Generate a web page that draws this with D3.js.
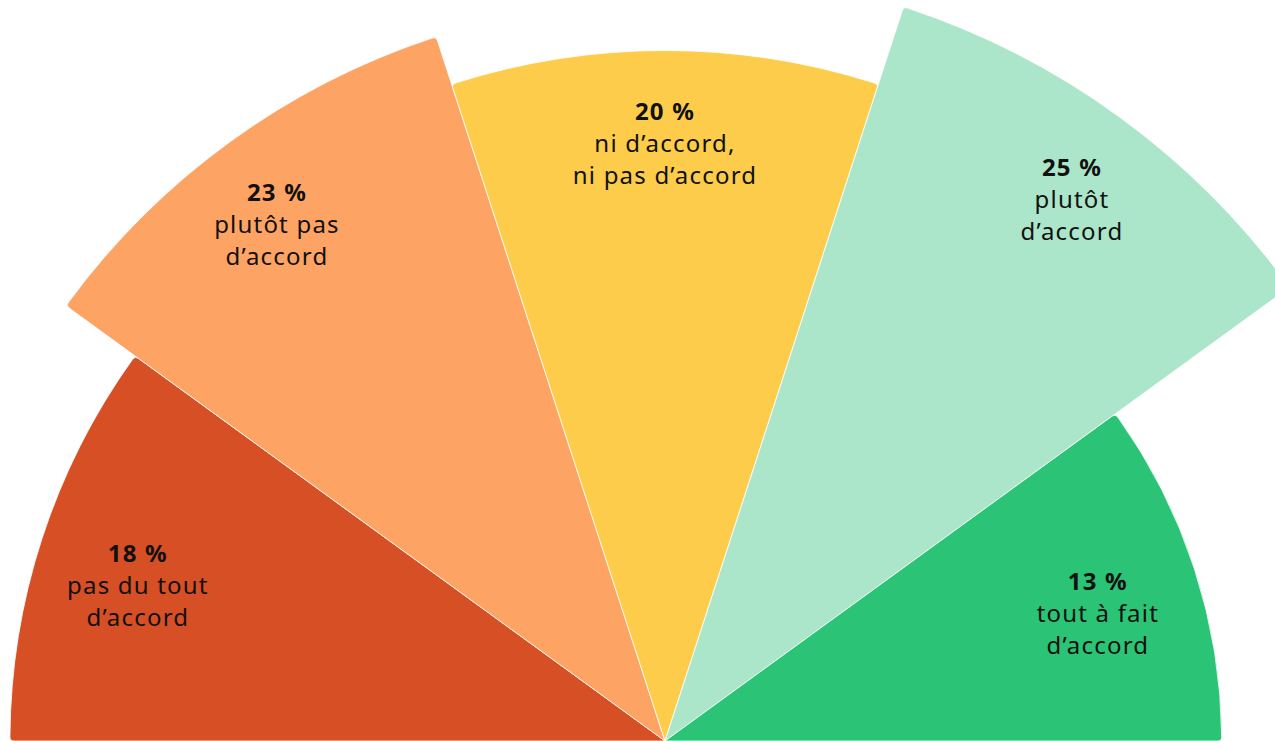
<!DOCTYPE html>
<html>
<head>
<meta charset="utf-8">
<script src="https://cdn.jsdelivr.net/npm/d3@7"></script>
<style>
html,body{margin:0;padding:0;background:#fff;}
svg{display:block;}
</style>
</head>
<body>
<svg id="chart" width="1275" height="741"></svg>
<script>
const categories = ["pas du tout d’accord", "plutôt pas d’accord", "ni d’accord, ni pas d’accord", "plutôt d’accord", "tout à fait d’accord"];
const values = [18, 23, 20, 25, 13];
const labelLines = [
  ["pas du tout", "d’accord"],
  ["plutôt pas", "d’accord"],
  ["ni d’accord,", "ni pas d’accord"],
  ["plutôt", "d’accord"],
  ["tout à fait", "d’accord"]
];
const colors = ["#D64F25", "#FDA465", "#FCCC4A", "#ABE6CA", "#2BC375"];

const W = 1275, H = 741;
const cx = 665, cy = 741;
const svg = d3.select("#chart");
const g = svg.append("g").attr("transform", `translate(${cx},${cy})`);

const rScale = d3.scaleSqrt().domain([0, 25]).range([0, 772]);
const angle = d3.scaleBand().domain(d3.range(values.length)).range([-Math.PI/2, Math.PI/2]).padding(0);

const arc = d3.arc()
  .innerRadius(0)
  .outerRadius(i => rScale(values[i]))
  .startAngle(i => angle(i))
  .endAngle(i => angle(i) + angle.bandwidth())
  .cornerRadius(4);

g.selectAll("path.slice")
  .data(d3.range(values.length))
  .join("path")
  .attr("class", "slice")
  .attr("d", arc)
  .attr("fill", i => colors[i])
  .attr("stroke", "#fff")
  .attr("stroke-width", 0.8);

const font = "'Noto Sans', 'DejaVu Sans', sans-serif";
const lh = 32;
const deg = Math.PI / 180;
const labels = g.selectAll("g.lbl")
  .data(d3.range(values.length))
  .join("g")
  .attr("class", "lbl")
  .attr("transform", i => {
    const mid = angle(i) + angle.bandwidth()/2;
    const s = Math.sin(mid);
    const a = mid + Math.sign(s) * 1.5 * deg * Math.abs(s);
    const rl = rScale(values[i]) - 92 - 16 * Math.pow(s, 4);
    return `translate(${rl*Math.sin(a)},${-rl*Math.cos(a)})`;
  });

labels.each(function(i){
  const sel = d3.select(this);
  const lines = [{t: values[i] + " %", b: true}].concat(labelLines[i].map(t => ({t, b:false})));
  sel.selectAll("text")
    .data(lines)
    .join("text")
    .attr("x", 0)
    .attr("y", (d, k) => (k - 1) * lh)
    .attr("text-anchor", "middle")
    .attr("dominant-baseline", "central")
    .attr("font-family", font)
    .attr("font-size", 24)
    .attr("letter-spacing", 1.2)
    .attr("font-weight", d => d.b ? 700 : 400)
    .attr("fill", "#111")
    .text(d => d.t);
});
</script>
</body>
</html>
